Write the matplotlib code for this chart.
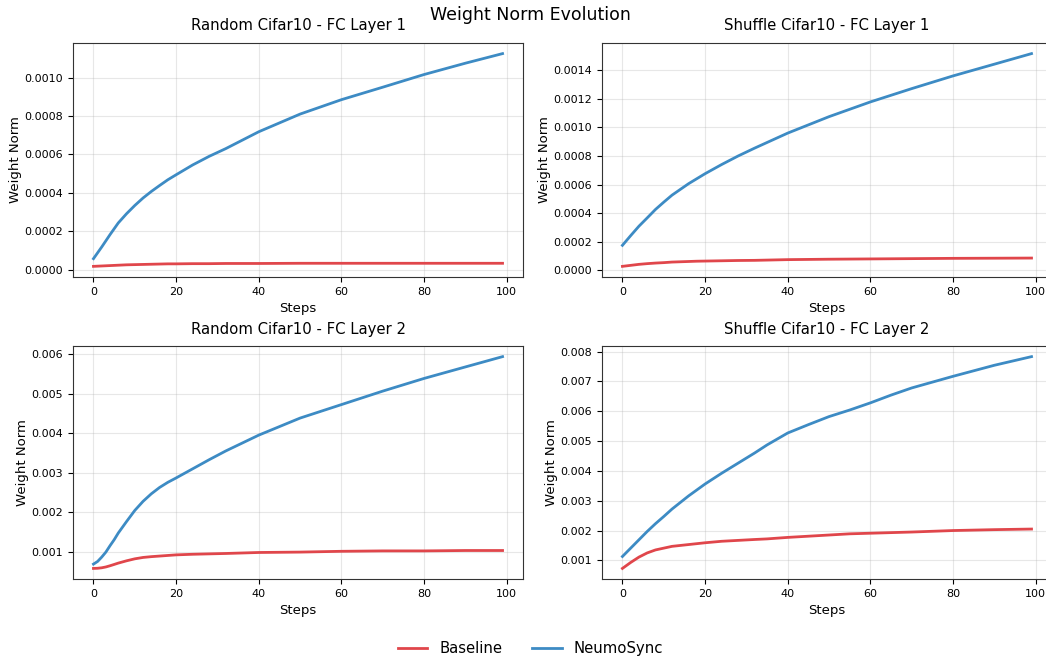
import matplotlib
matplotlib.use("Agg")
import matplotlib.pyplot as plt

# sampled training steps and weight norms per panel
steps_rand1 = [0, 2, 4, 6, 8, 10, 12, 14, 16, 18, 20, 24, 28, 32, 40, 50, 60, 70, 80, 90, 99]
rand1_base = [0.000017, 0.000019, 0.000021, 0.000023, 0.000025, 0.000026, 0.000027,
              0.000028, 0.000029, 0.00003, 0.00003, 0.000031, 0.000031, 0.000032,
              0.000032, 0.000033, 0.000033, 0.000033, 0.000033, 0.000033, 0.000033]
rand1_neumo = [0.000057, 0.000118, 0.000182, 0.000243, 0.000291, 0.000334, 0.000373,
               0.000407, 0.000438, 0.000468, 0.000494, 0.000545, 0.00059, 0.00063,
               0.000718, 0.00081, 0.000885, 0.00095, 0.001016, 0.001075, 0.001125]

steps_shuf1 = [0, 2, 4, 6, 8, 10, 12, 14, 16, 18, 20, 24, 28, 32, 40, 50, 60, 70, 80, 90, 99]
shuf1_base = [0.000028, 0.000035, 0.000042, 0.000047, 0.000051, 0.000054, 0.000058,
              0.00006, 0.000062, 0.000064, 0.000065, 0.000067, 0.000069, 0.00007,
              0.000075, 0.000078, 0.00008, 0.000082, 0.000084, 0.000085, 0.000086]
shuf1_neumo = [0.000175, 0.000243, 0.000309, 0.000367, 0.000426, 0.000477, 0.000526,
               0.000566, 0.000606, 0.000641, 0.000676, 0.00074, 0.0008, 0.000855,
               0.00096, 0.001075, 0.001178, 0.001271, 0.00136, 0.001442, 0.001516]

steps_rand2 = [0, 1, 2, 3, 4, 5, 6, 8, 10, 12, 14, 16, 18, 20, 24, 28, 32, 40, 50, 60,
               70, 80, 90, 99]
rand2_base = [0.000588, 0.000592, 0.000604, 0.000625, 0.000655, 0.000688, 0.000722,
              0.00078, 0.00083, 0.000865, 0.000885, 0.0009, 0.000915, 0.00093, 0.000945,
              0.000955, 0.000965, 0.00099, 0.001, 0.00102, 0.00103, 0.00103, 0.00104,
              0.00104]
rand2_neumo = [0.000697, 0.000764, 0.000874, 0.001, 0.00116, 0.00131, 0.00148, 0.00177,
               0.00205, 0.00228, 0.00247, 0.00263, 0.00276, 0.00287, 0.0031, 0.00333,
               0.00355, 0.00395, 0.00438, 0.00472, 0.00506, 0.00538, 0.00567, 0.00593]

steps_shuf2 = [0, 2, 4, 6, 8, 10, 12, 14, 16, 18, 20, 24, 28, 32, 35, 40, 45, 50, 55,
               60, 65, 70, 80, 90, 99]
shuf2_base = [0.00073, 0.00093, 0.00111, 0.00125, 0.00135, 0.00141, 0.00147, 0.0015,
              0.00153, 0.00156, 0.00159, 0.00164, 0.00167, 0.0017, 0.00172, 0.00177,
              0.00181, 0.00185, 0.00189, 0.00191, 0.00193, 0.00195, 0.002, 0.00203,
              0.00205]
shuf2_neumo = [0.00113, 0.00141, 0.00169, 0.00197, 0.00223, 0.00247, 0.00272, 0.00294,
               0.00316, 0.00336, 0.00356, 0.00392, 0.00426, 0.0046, 0.00487, 0.00527,
               0.00555, 0.00582, 0.00604, 0.00628, 0.00654, 0.00678, 0.00717, 0.00754,
               0.00783]

titles = ['Random Cifar10 - FC Layer 1', 'Shuffle Cifar10 - FC Layer 1',
          'Random Cifar10 - FC Layer 2', 'Shuffle Cifar10 - FC Layer 2']
panels = [
    (steps_rand1, rand1_base, rand1_neumo),
    (steps_shuf1, shuf1_base, shuf1_neumo),
    (steps_rand2, rand2_base, rand2_neumo),
    (steps_shuf2, shuf2_base, shuf2_neumo),
]

base_color = '#e0464b'
neumo_color = '#3d8bc4'

fig = plt.figure(figsize=(10.46, 6.57), dpi=100)
# right-hand column runs slightly past the figure edge
rects = [
    [0.0698, 0.5784, 0.4302, 0.3562],
    [0.5755, 0.5784, 0.4302, 0.3562],
    [0.0698, 0.1187, 0.4302, 0.3546],
    [0.5755, 0.1187, 0.4302, 0.3546],
]

for rect, title, (x, base, neumo) in zip(rects, titles, panels):
    ax = fig.add_axes(rect)
    ax.plot(x, base, color=base_color, linewidth=2, label='Baseline')
    ax.plot(x, neumo, color=neumo_color, linewidth=2, label='NeumoSync')
    ax.set_title(title, fontsize=10.7, pad=9)
    ax.set_xlabel('Steps', fontsize=9.5)
    ax.set_ylabel('Weight Norm', fontsize=9.5, labelpad=2)
    ax.tick_params(labelsize=8)
    ax.set_xticks([0, 20, 40, 60, 80, 100])
    ax.grid(True, alpha=0.3)
    for s in ax.spines.values():
        s.set_color('#333333')

fig.suptitle('Weight Norm Evolution', fontsize=12.5, x=0.507, y=0.977, va='center')
handles, labels = ax.get_legend_handles_labels()
fig.legend(handles, labels, loc='center', bbox_to_anchor=(0.507, 0.013),
           ncol=2, frameon=False, fontsize=10.7)

fig.savefig('out.png', dpi=100, facecolor='white')
